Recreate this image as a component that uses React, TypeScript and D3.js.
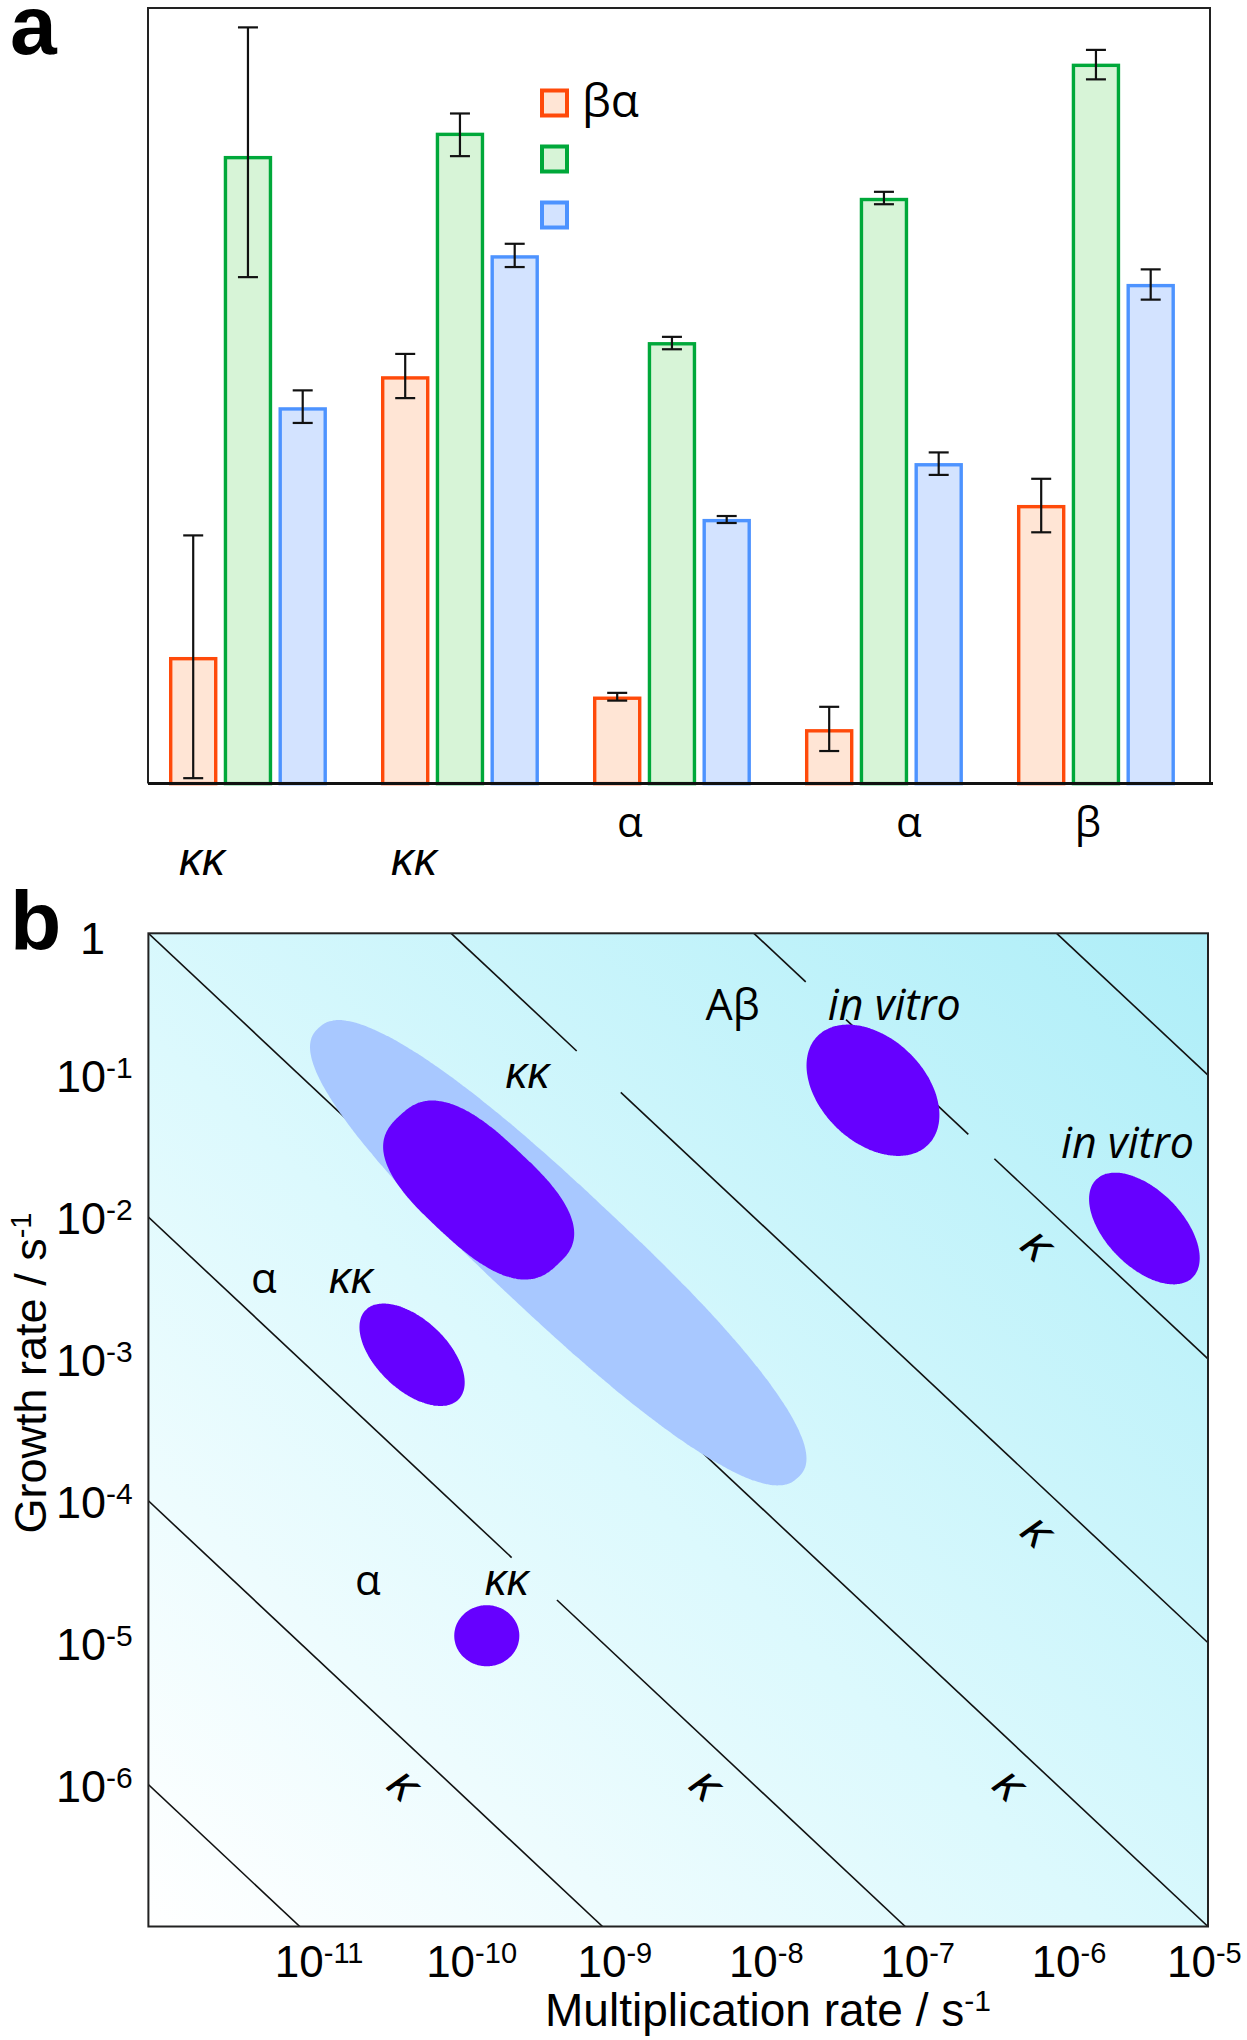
import React from 'react';
import * as d3 from 'd3';

// ---------- Panel a data ----------
const groups = ['G1', 'G2', 'G3', 'G4', 'G5'];
const groupLabels = ['κκ', 'κκ', 'α', 'α', 'β'];
const seriesKeys = ['s1', 's2', 's3'];
const legendLabels = ['βα', '', ''];

const s1Values = [16.3, 52.5, 11.2, 7.0, 35.9];
const s1Low = [0.7, 49.7, 10.7, 4.2, 32.4];
const s1High = [32.0, 55.4, 11.7, 9.9, 39.3];

const s2Values = [80.9, 83.9, 56.9, 75.5, 92.8];
const s2Low = [65.3, 80.9, 56.0, 74.7, 90.8];
const s2High = [97.5, 86.4, 57.6, 76.3, 94.6];

const s3Values = [48.5, 68.1, 34.1, 41.3, 64.4];
const s3Low = [46.5, 66.6, 33.6, 39.8, 62.4];
const s3High = [50.7, 69.6, 34.5, 42.7, 66.3];

// ---------- Panel b data ----------
const xTicks = [1e-11, 1e-10, 1e-9, 1e-8, 1e-7, 1e-6, 1e-5];
const yTicks = [1, 1e-1, 1e-2, 1e-3, 1e-4, 1e-5, 1e-6];
const isoProducts = [1e-18, 1e-16, 1e-14, 1e-12, 1e-10, 1e-8, 1e-6];
// interruptions of the iso-lines (multiplication-rate range)
const isoGapProduct = [1e-14, 1e-10, 1e-8, 1e-8];
const isoGapFrom = [2.51e-10, 6.75e-10, 2.2e-8, 2.61e-7];
const isoGapTo = [5.0e-10, 1.32e-9, 4.06e-8, 3.88e-7];

// regions: centre (mult, growth), half axes in decades, angle in log space, shape exponent
const regionNames = ['broad', 'kkMain', 'alphaKK', 'alphaKK2', 'abInVitro', 'inVitro'];
const regionMult = [5.1e-10, 1.52e-10, 5.52e-11, 1.72e-10, 6.12e-8, 3.8e-6];
const regionGrowth = [5.6e-3, 1.55e-2, 1.07e-3, 1.12e-5, 7.83e-2, 8.3e-3];
const regionA = [2.24, 0.74, 0.44, 0.215, 0.53, 0.47];
const regionB = [0.44, 0.38, 0.24, 0.215, 0.355, 0.26];
const regionAngle = [45, 45, 47, 45, 49, 49];
const regionExp = [2.4, 2.7, 2, 2, 2, 2];

// rotated κ labels beside iso-lines
const kappaMult = [7.4e-7, 7.4e-7, 4.84e-11, 4.79e-9, 4.83e-7];
const kappaGrowth = [6.25e-3, 6.0e-5, 9.8e-7, 9.8e-7, 9.8e-7];

// annotations (anchor = start of text baseline)
const annoText = ['Aβ', 'in vitro', 'in vitro', 'κκ', 'α', 'κκ', 'α', 'κκ'];
const annoMult = [4.79e-9, 3.08e-8, 1.07e-6, 2.29e-10, 4.77e-12, 1.56e-11, 2.32e-11, 1.67e-10];
const annoGrowth = [0.245, 0.245, 0.0261, 0.0813, 2.92e-3, 2.92e-3, 2.17e-5, 2.17e-5];
const annoItalic = [false, true, true, true, false, true, false, true];

// ---------- layout ----------
const W = 1247;
const H = 2040;
const PA = { left: 148, right: 1210, top: 8, bottom: 783.6, barsStart: 169.2, barsEnd: 1174.7 };
const PB = { left: 148.4, right: 1208, top: 933.3, bottom: 1926.5 };
const seriesStroke = ['#ff4a0a', '#00a83a', '#4d93ff'];
const seriesFill = ['#ffe5d5', '#d7f4d7', '#d3e3ff'];
const labelDx = [-46, -46, -42, 25, -8];
const labelBaseline = [875, 875, 837, 837, 837];
const GREEK = "'Open Sans', 'DejaVu Sans', sans-serif";
const ARIAL = "'Liberation Sans', Arial, sans-serif";

function expOf(v: number) {
  return Math.round(Math.log10(v));
}

export default function App() {
  // ---- panel a scales
  const x0 = d3.scaleBand<string>().domain(groups).range([PA.barsStart, PA.barsEnd]).paddingInner(0.257).paddingOuter(0);
  const x1 = d3.scaleBand<string>().domain(seriesKeys).range([0, x0.bandwidth()]).paddingInner(0.123).paddingOuter(0);
  const ya = d3.scaleLinear().domain([0, 100]).range([PA.bottom, PA.top]);
  const vals = [s1Values, s2Values, s3Values];
  const lows = [s1Low, s2Low, s3Low];
  const highs = [s1High, s2High, s3High];

  // ---- panel b scales
  const xb = d3.scaleLog().domain([1e-12, 1e-5]).range([PB.left, PB.right]);
  const yb = d3.scaleLog().domain([1e-7, 1]).range([PB.bottom, PB.top]);
  const [xmin, xmax] = xb.domain();
  const [ymin, ymax] = yb.domain();
  const line = d3.line<[number, number]>().x((d) => xb(d[0])).y((d) => yb(d[1]));

  const isoSegments: string[] = [];
  isoProducts.forEach((p) => {
    const xs = Math.max(xmin, p / ymax);
    const xe = Math.min(xmax, p / ymin);
    const cuts: [number, number][] = [];
    isoGapProduct.forEach((gp, i) => {
      if (gp === p) cuts.push([isoGapFrom[i], isoGapTo[i]]);
    });
    cuts.sort((a, b) => a[0] - b[0]);
    let cur = xs;
    cuts.forEach(([f, t]) => {
      isoSegments.push(line([[cur, p / cur], [f, p / f]]) as string);
      cur = t;
    });
    isoSegments.push(line([[cur, p / cur], [xe, p / xe]]) as string);
  });

  const regionPath = (i: number) => {
    const n = regionExp[i];
    const th = (regionAngle[i] * Math.PI) / 180;
    const cx = Math.log10(regionMult[i]);
    const cy = Math.log10(regionGrowth[i]);
    const pts = d3.range(0, 360, 2).map((deg) => {
      const t = (deg * Math.PI) / 180;
      const c = Math.cos(t);
      const s = Math.sin(t);
      const u = regionA[i] * Math.sign(c) * Math.pow(Math.abs(c), 2 / n);
      const v = regionB[i] * Math.sign(s) * Math.pow(Math.abs(s), 2 / n);
      const lx = cx + u * Math.cos(th) + v * Math.sin(th);
      const ly = cy - u * Math.sin(th) + v * Math.cos(th);
      return [xb(Math.pow(10, lx)), yb(Math.pow(10, ly))] as [number, number];
    });
    return d3.line().curve(d3.curveCardinalClosed.tension(0.5))(pts) as string;
  };

  const slopeDeg = (Math.atan2(yb(1e-1) - yb(1), xb(1e-11) - xb(1e-12)) * 180) / Math.PI;

  return (
    <svg width={W} height={H} style={{ position: 'absolute', left: 0, top: 0, background: '#fff' }}>
      <defs>
        <linearGradient id="bg" x1="0" y1="1" x2="1" y2="0">
          <stop offset="0" stopColor="#ffffff" />
          <stop offset="0.45" stopColor="#dcf9fd" />
          <stop offset="1" stopColor="#aeeef8" />
        </linearGradient>
        <clipPath id="clipb">
          <rect x={PB.left} y={PB.top} width={PB.right - PB.left} height={PB.bottom - PB.top} />
        </clipPath>
      </defs>

      {/* ================= Panel a ================= */}
      <text x={10} y={54} fontFamily={ARIAL} fontWeight="bold" fontSize={84}>a</text>
      <path
        d={`M${PA.left},${PA.bottom} V${PA.top} H${PA.right} V${PA.bottom}`}
        fill="none"
        stroke="#222"
        strokeWidth={2}
      />
      {groups.map((g, gi) => (
        <g key={g}>
          {seriesKeys.map((s, si) => {
            const bx = (x0(g) as number) + (x1(s) as number);
            const bw = x1.bandwidth();
            const top = ya(vals[si][gi]);
            return (
              <rect
                key={s}
                x={bx + 1.5}
                y={top + 1.5}
                width={bw - 3}
                height={ya(0) - top - 1.5}
                fill={seriesFill[si]}
                stroke={seriesStroke[si]}
                strokeWidth={3.4}
              />
            );
          })}
        </g>
      ))}
      <line x1={PA.left} x2={PA.right + 3} y1={PA.bottom} y2={PA.bottom} stroke="#111" strokeWidth={3} />
      {groups.map((g, gi) => (
        <g key={g + 'e'}>
          {seriesKeys.map((s, si) => {
            const cx = (x0(g) as number) + (x1(s) as number) + x1.bandwidth() / 2;
            const yl = ya(lows[si][gi]);
            const yh = ya(highs[si][gi]);
            return (
              <g key={s} stroke="#111" strokeWidth={2.2}>
                <line x1={cx} x2={cx} y1={yl} y2={yh} />
                <line x1={cx - 10} x2={cx + 10} y1={yl} y2={yl} />
                <line x1={cx - 10} x2={cx + 10} y1={yh} y2={yh} />
              </g>
            );
          })}
        </g>
      ))}
      {groups.map((g, gi) => {
        const kk = groupLabels[gi] === 'κκ';
        return (
          <text
            key={g + 'l'}
            x={(x0(g) as number) + x0.bandwidth() / 2 + labelDx[gi]}
            y={labelBaseline[gi]}
            textAnchor="middle"
            fontFamily={kk ? ARIAL : GREEK}
            fontStyle={kk ? 'italic' : 'normal'}
            fontSize={kk ? 46 : 42}
          >
            {groupLabels[gi]}
          </text>
        );
      })}
      {seriesKeys.map((s, si) => (
        <g key={s + 'leg'}>
          <rect x={542} y={90.5 + si * 56} width={25} height={25} fill={seriesFill[si]} stroke={seriesStroke[si]} strokeWidth={4} />
          {legendLabels[si] && (
            <text x={582} y={117 + si * 56} fontFamily={GREEK} fontSize={46}>
              {legendLabels[si]}
            </text>
          )}
        </g>
      ))}

      {/* ================= Panel b ================= */}
      <text x={10} y={950} fontFamily={ARIAL} fontWeight="bold" fontSize={84}>b</text>
      <rect x={PB.left} y={PB.top} width={PB.right - PB.left} height={PB.bottom - PB.top} fill="url(#bg)" />
      <g clipPath="url(#clipb)">
        {isoSegments.map((d, i) => (
          <path key={i} d={d} fill="none" stroke="#111" strokeWidth={1.6} />
        ))}
        {regionNames.map((r, i) => (
          <path key={r} d={regionPath(i)} fill={i === 0 ? '#a8c8ff' : '#6600ff'} />
        ))}
      </g>
      <rect x={PB.left} y={PB.top} width={PB.right - PB.left} height={PB.bottom - PB.top} fill="none" stroke="#222" strokeWidth={2} />

      {kappaMult.map((m, i) => (
        <text
          key={'k' + i}
          transform={`translate(${xb(m)},${yb(kappaGrowth[i])}) rotate(${slopeDeg})`}
          textAnchor="middle"
          dy={14}
          fontFamily={ARIAL}
          fontStyle="italic"
          fontSize={48}
        >
          κ
        </text>
      ))}
      {annoText.map((t, i) => {
        const kk = t === 'κκ';
        return (
          <text
            key={'a' + i}
            x={xb(annoMult[i])}
            y={yb(annoGrowth[i])}
            fontFamily={kk ? ARIAL : GREEK}
            fontStyle={annoItalic[i] ? 'italic' : 'normal'}
            fontSize={i < 3 ? 43 : kk ? 44 : 42}
          >
            {t}
          </text>
        );
      })}

      {/* y ticks */}
      {yTicks.map((t) => {
        const e = expOf(t);
        return e === 0 ? (
          <text key={'y' + e} x={80} y={yb(t) + 21} fontFamily={ARIAL} fontSize={45}>1</text>
        ) : (
          <text key={'y' + e} x={56} y={yb(t) + 17} fontFamily={ARIAL} fontSize={45}>
            10<tspan dy={-14} fontSize={30}>{`-${-e}`}</tspan>
          </text>
        );
      })}
      {/* x ticks */}
      {xTicks.map((t) => {
        const e = expOf(t);
        const start = Math.min(xb(t) - 25, W - 80);
        return (
          <text key={'x' + e} x={start} y={1977} fontFamily={ARIAL} fontSize={44}>
            10<tspan dy={-14} fontSize={29}>{`-${-e}`}</tspan>
          </text>
        );
      })}
      <text x={768} y={2026} textAnchor="middle" fontFamily={ARIAL} fontSize={46}>
        Multiplication rate / s<tspan dy={-15} fontSize={30}>-1</tspan>
      </text>
      <text transform="translate(46,1373) rotate(-90)" textAnchor="middle" fontFamily={ARIAL} fontSize={45}>
        Growth rate / s<tspan dy={-15} fontSize={29}>-1</tspan>
      </text>
    </svg>
  );
}
